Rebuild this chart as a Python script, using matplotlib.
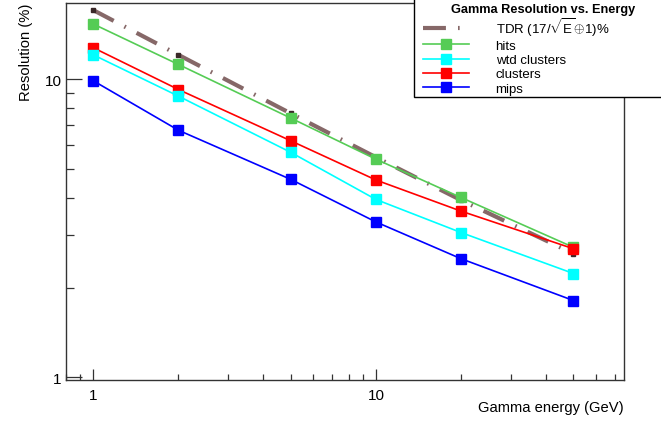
import matplotlib
matplotlib.use('Agg')
import matplotlib.pyplot as plt
from matplotlib.patches import Rectangle
from matplotlib.ticker import LogLocator, NullFormatter, FuncFormatter

plt.rcParams['font.family'] = ['Liberation Sans', 'DejaVu Sans']
plt.rcParams['mathtext.fontset'] = 'custom'
plt.rcParams['mathtext.rm'] = 'Liberation Sans'
plt.rcParams['mathtext.it'] = 'Liberation Sans'

# ---- data ----
energy = [1, 2, 5, 10, 20, 50]
tdr = [17.03, 12.06, 7.67, 5.47, 3.93, 2.60]
hits = [15.3, 11.2, 7.4, 5.39, 4.01, 2.73]
wtd_clusters = [12.06, 8.77, 5.68, 3.95, 3.06, 2.23]
clusters = [12.74, 9.23, 6.21, 4.59, 3.61, 2.70]
mips = [9.87, 6.74, 4.61, 3.32, 2.50, 1.81]

labels = [r"TDR (17/$\sqrt{\mathrm{E}}\!\oplus\!$1)%", "hits", "wtd clusters", "clusters", "mips"]
legend_title = "Gamma Resolution vs. Energy"
xlabel = "Gamma energy (GeV)"
ylabel = "Resolution (%)"

W, H = 661, 427
fig = plt.figure(figsize=(W / 100, H / 100), dpi=100)
ax = fig.add_axes([66 / W, 1 - 381 / H, (624 - 66) / W, (381 - 4) / H])

tdr_color = '#866868'
l_tdr, = ax.plot(energy, tdr, color=tdr_color, lw=3.0,
                 linestyle=(0, (5.5, 2.9, 0.4, 2.9)), solid_capstyle='butt',
                 dash_capstyle='butt', zorder=2)
ax.plot(energy, tdr, linestyle='none', marker='s', markersize=2.5,
        color='#3a2828', zorder=2.1)
l_hits, = ax.plot(energy, hits, color='#55cc55', lw=1.2, marker='s',
                  markersize=6.5, zorder=3)
l_clu, = ax.plot(energy, clusters, color='#ff0000', lw=1.2, marker='s',
                 markersize=6.5, zorder=3)
l_wtd, = ax.plot(energy, wtd_clusters, color='#00ffff', lw=1.2, marker='s',
                 markersize=6.5, zorder=3)
l_mips, = ax.plot(energy, mips, color='#0000ff', lw=1.2, marker='s',
                  markersize=6.5, zorder=3)

ax.set_xscale('log')
ax.set_yscale('log')
ax.set_xlim(0.8, 75.5)
ax.set_ylim(0.98, 18.0)

fmt = FuncFormatter(lambda v, p: '%g' % v)
for axis in (ax.xaxis, ax.yaxis):
    axis.set_major_locator(LogLocator(base=10, numticks=10))
    axis.set_minor_locator(LogLocator(base=10, subs=range(2, 10), numticks=20))
    axis.set_major_formatter(fmt)
    axis.set_minor_formatter(NullFormatter())

ax.tick_params(axis='x', which='major', direction='in', length=8, width=0.9,
               labelsize=11, pad=6, color='#333333')
ax.tick_params(axis='x', which='minor', direction='in', length=4, width=0.9,
               color='#333333')
ax.tick_params(axis='y', which='major', direction='in', length=11.5, width=0.9,
               labelsize=11, pad=3, color='#333333')
ax.tick_params(axis='y', which='minor', direction='in', length=6, width=0.9,
               color='#333333')
for s in ax.spines.values():
    s.set_linewidth(1.0)
    s.set_color('#333333')

ax.set_xlabel(xlabel, fontsize=10.6, loc='right')
ax.xaxis.set_label_coords(1.0, -0.053)
ax.set_ylabel(ylabel, fontsize=10.6, loc='top')
ax.yaxis.set_label_coords(-0.059, 1.0)

# legend frame (white box with black border)
frame = Rectangle((414 / W, 1 - 98 / H), 300 / W, 120 / H,
                  transform=fig.transFigure, facecolor='white',
                  edgecolor='black', lw=1.0, zorder=9)
fig.add_artist(frame)
fig.text(543 / W, 1 - 9.5 / H, legend_title, ha='center', va='center',
         fontsize=9.2, fontweight='bold', zorder=11)

leg = fig.legend([l_tdr, l_hits, l_wtd, l_clu, l_mips], labels,
                 loc='upper left', bbox_to_anchor=(423 / W, 1 - 16 / H, 240 / W, 0),
                 mode='expand',
                 fontsize=9.5, frameon=False, borderaxespad=0, numpoints=1,
                 handlelength=3.5, handletextpad=2.0, labelspacing=0.15,
                 borderpad=0.0)
leg.set_zorder(10)

fig.savefig('out.png', dpi=100)
